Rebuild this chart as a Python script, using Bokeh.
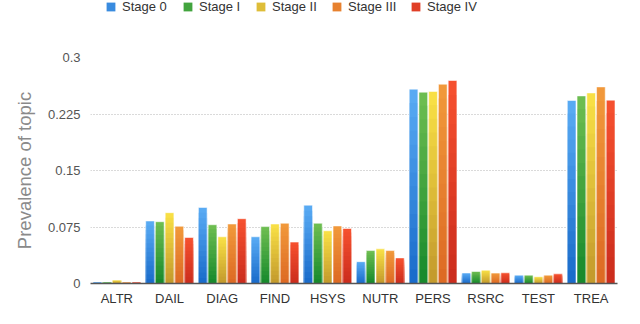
from bokeh.plotting import figure
from bokeh.layouts import column
from bokeh.models import (ColumnDataSource, FactorRange, Range1d, Legend, LegendItem,
                          Label, FixedTicker)
from bokeh.transform import dodge
from bokeh.embed import file_html
from bokeh.resources import INLINE

# ---- data ----
categories = ["ALTR", "DAIL", "DIAG", "FIND", "HSYS", "NUTR", "PERS", "RSRC", "TEST", "TREA"]
stage_names = ["Stage 0", "Stage I", "Stage II", "Stage III", "Stage IV"]
stage0 = [0.002, 0.083, 0.101, 0.062, 0.104, 0.029, 0.258, 0.014, 0.011, 0.243]
stage1 = [0.002, 0.082, 0.078, 0.0755, 0.080, 0.0437, 0.254, 0.016, 0.011, 0.249]
stage2 = [0.0045, 0.094, 0.062, 0.079, 0.070, 0.046, 0.255, 0.0177, 0.009, 0.253]
stage3 = [0.002, 0.076, 0.079, 0.080, 0.0764, 0.0437, 0.2646, 0.0138, 0.011, 0.261]
stage4 = [0.002, 0.061, 0.086, 0.055, 0.073, 0.034, 0.2695, 0.0142, 0.0128, 0.2434]
ytick_values = [0, 0.075, 0.15, 0.225, 0.3]
ytick_labels = ["0", "0.075", "0.15", "0.225", "0.3"]
caption = ("of all posts, stratified by cancer stages of authors. Y-axis is the proportions "
           "of posts among each group of patients")

series = [stage0, stage1, stage2, stage3, stage4]
top_colors = ["#58aaf3", "#6cbd50", "#f8df45", "#f1983a", "#f5502f"]
bot_colors = ["#1a6ccb", "#188a2c", "#c49b2c", "#dd6a24", "#cc2d1d"]
offsets = [-0.37, -0.185, 0.0, 0.185, 0.37]
legend_x = [15, 92, 165, 241, 320]   # swatch offsets from the plot frame's left edge (px)
bar_w = 0.165
N_BANDS = 14


def hex2rgb(h):
    h = h.lstrip("#")
    return tuple(int(h[i:i + 2], 16) for i in (0, 2, 4))


def mix(c1, c2, t):
    a, b = hex2rgb(c1), hex2rgb(c2)
    return "#%02x%02x%02x" % tuple(int(round(a[i] + (b[i] - a[i]) * t)) for i in range(3))


def blank_fig(h, xr=None):
    f = figure(width=640, height=h, output_backend="svg", toolbar_location=None,
               x_range=xr if xr is not None else Range1d(0, 1), y_range=Range1d(0, 1),
               x_axis_location=None, y_axis_location=None, min_border=0)
    f.min_border_left = f.min_border_right = f.min_border_top = f.min_border_bottom = 0
    f.outline_line_color = None
    f.grid.visible = False
    f.background_fill_color = "white"
    f.border_fill_color = "white"
    return f


# ---- legend strip (its bars have zero width: only the legend swatches show) ----
leg_fig = blank_fig(18, FactorRange(*categories))
for s_idx, vals in enumerate(series):
    lsrc = ColumnDataSource({"cat": categories, "v": vals})
    r = leg_fig.vbar(x="cat", top="v", width=0, source=lsrc,
                     fill_color=mix(bot_colors[s_idx], top_colors[s_idx], 0.5),
                     line_color=None)
    lg = Legend(items=[LegendItem(label=stage_names[s_idx], renderers=[r])],
                orientation="horizontal", location=(legend_x[s_idx], 4),
                glyph_width=11, glyph_height=11, label_standoff=6,
                padding=0, margin=0, border_line_color=None, background_fill_alpha=0,
                label_text_font="Liberation Sans", label_text_font_size="13px",
                label_text_color="#333333", label_height=14)
    leg_fig.add_layout(lg, "center")

# ---- main chart ----
p = figure(x_range=FactorRange(*categories, range_padding=0), y_range=Range1d(0, 0.3),
           width=640, height=298, output_backend="svg", toolbar_location=None,
           min_border_left=90, min_border_right=23, min_border_top=39, min_border_bottom=33)
p.outline_line_color = None
p.background_fill_color = "white"
p.border_fill_color = "white"

for s_idx, vals in enumerate(series):
    data = {"cat": categories, "v": vals}
    for k in range(N_BANDS):
        data["t%d" % k] = [v * (k + 1) / N_BANDS for v in vals]
    src = ColumnDataSource(data)
    x = dodge("cat", offsets[s_idx], range=p.x_range)
    for k in range(N_BANDS - 1, -1, -1):
        t = k / (N_BANDS - 1)
        p.vbar(x=x, top="t%d" % k, width=bar_w, source=src,
               fill_color=mix(bot_colors[s_idx], top_colors[s_idx], t), line_color=None)
    p.vbar(x=x, top="v", width=bar_w, source=src, fill_alpha=0,
           line_color="white", line_alpha=0.55, line_width=1)

p.xaxis.axis_line_color = "#555555"
p.xaxis.axis_line_width = 1.5
p.xaxis.major_tick_line_color = None
p.xaxis.minor_tick_line_color = None
p.xaxis.major_tick_out = 0
p.xaxis.major_tick_in = 0
p.xaxis.major_label_standoff = 7
p.xaxis.major_label_text_font = "Liberation Sans"
p.xaxis.major_label_text_font_size = "13px"
p.xaxis.major_label_text_color = "#333333"

p.yaxis.ticker = FixedTicker(ticks=ytick_values)
p.yaxis.major_label_overrides = {v: l for v, l in zip(ytick_values, ytick_labels)}
p.yaxis.axis_line_color = None
p.yaxis.major_tick_line_color = None
p.yaxis.minor_tick_line_color = None
p.yaxis.major_tick_out = 0
p.yaxis.major_tick_in = 0
p.yaxis.major_label_standoff = 10
p.yaxis.major_label_text_font = "Liberation Sans"
p.yaxis.major_label_text_font_size = "13px"
p.yaxis.major_label_text_color = "#555555"
p.yaxis.axis_label = "Prevalence of topic"
p.yaxis.axis_label_text_font = "Liberation Sans"
p.yaxis.axis_label_text_font_size = "18.5px"
p.yaxis.axis_label_text_font_style = "normal"
p.yaxis.axis_label_text_color = "#8a8a8a"
p.yaxis.axis_label_standoff = 10

p.xgrid.grid_line_color = None
p.ygrid.grid_line_color = "#b5b5b5"
p.ygrid.grid_line_dash = "1 2"
p.ygrid.grid_line_width = 1

# ---- caption strip (only its top shows, as in the cropped original) ----
cap_fig = blank_fig(8)
if hasattr(cap_fig, "frame_align"):
    cap_fig.frame_align = False
cap = Label(x=0.0125, y=-0.55, text=caption,
            text_font="Liberation Serif", text_font_size="13.5px", text_color="black",
            text_baseline="alphabetic")
cap_fig.add_layout(cap)

layout = column(leg_fig, p, cap_fig, spacing=0)
open("out.html", "w").write(file_html(layout, INLINE))
